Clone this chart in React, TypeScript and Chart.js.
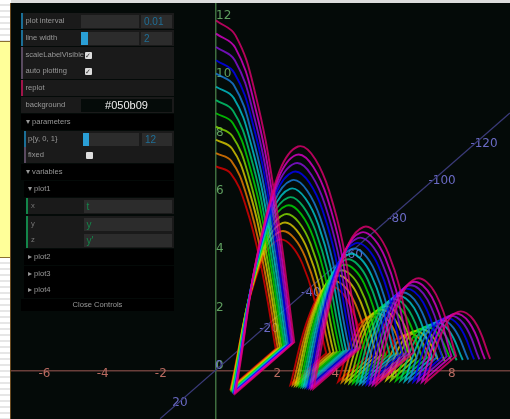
import React, { useEffect, useRef } from "react";
import { Chart, registerables } from "chart.js";

Chart.register(...registerables);

const seriesColors = ["#e00070cc", "#dd00cccc", "#8a10e0cc", "#0000ffcc", "#1a80e0cc", "#00c8d0cc", "#00d070cc", "#00dd00cc", "#88e000cc", "#e0d000cc", "#f08000cc", "#e00000cc"];

const x12 = [0, .67, 1.35, 2.02, 2.69, .67, 1.74, 2.82, 3.89, 4.97, 3.35, 4.21, 5.07, 5.93, 6.79, 5.5, 6.19, 6.87, 7.56, 8.25, 7.21, 7.77, 8.32, 8.87, 9.42];
const y12 = [12, 11.49, 9.49, 5.98, .97, -.78, 5.37, 7.68, 6.15, .78, -.62, 3.38, 4.92, 4, .62, -.5, 2.11, 3.15, 2.61, .5, -.4, 1.31, 2.01, 1.71, .4];
const x11 = [0, .66, 1.32, 1.98, 2.64, .65, 1.71, 2.76, 3.82, 4.87, 3.28, 4.13, 4.97, 5.82, 6.66, 5.39, 6.07, 6.74, 7.42, 8.09, 7.08, 7.62, 8.16, 8.7, 9.24];
const y11 = [11.55, 11.07, 9.14, 5.77, .95, -.76, 5.16, 7.39, 5.93, .76, -.61, 3.24, 4.73, 3.85, .61, -.49, 2.03, 3.03, 2.51, .49, -.39, 1.26, 1.94, 1.65, .39];
const x10 = [0, .65, 1.29, 1.94, 2.59, .64, 1.67, 2.71, 3.74, 4.78, 3.22, 4.05, 4.87, 5.7, 6.53, 5.28, 5.94, 6.61, 7.27, 7.93, 6.93, 7.46, 7.99, 8.52, 9.05];
const y10 = [11.09, 10.63, 8.79, 5.55, .93, -.75, 4.95, 7.1, 5.7, .75, -.6, 3.11, 4.54, 3.71, .6, -.48, 1.94, 2.91, 2.42, .48, -.38, 1.21, 1.86, 1.59, .38];
const x9 = [0, .63, 1.27, 1.9, 2.53, .63, 1.64, 2.65, 3.67, 4.68, 3.15, 3.96, 4.78, 5.59, 6.4, 5.18, 5.82, 6.47, 7.12, 7.77, 6.79, 7.31, 7.83, 8.35, 8.87];
const y9 = [10.64, 10.2, 8.44, 5.34, .92, -.73, 4.74, 6.81, 5.47, .73, -.59, 2.98, 4.36, 3.56, .59, -.47, 1.86, 2.79, 2.33, .47, -.38, 1.15, 1.79, 1.53, .38];
const x8 = [0, .62, 1.24, 1.86, 2.48, .61, 1.6, 2.59, 3.58, 4.58, 3.08, 3.88, 4.67, 5.46, 6.25, 5.06, 5.69, 6.33, 6.96, 7.6, 6.64, 7.15, 7.66, 8.16, 8.67];
const y8 = [10.18, 9.77, 8.08, 5.13, .9, -.72, 4.53, 6.52, 5.24, .72, -.57, 2.84, 4.17, 3.41, .57, -.46, 1.77, 2.67, 2.23, .46, -.37, 1.1, 1.71, 1.46, .37];
const x7 = [0, .61, 1.21, 1.82, 2.42, .6, 1.57, 2.54, 3.51, 4.47, 3.01, 3.79, 4.57, 5.34, 6.12, 4.95, 5.57, 6.19, 6.81, 7.43, 6.49, 6.99, 7.49, 7.98, 8.48];
const y7 = [9.73, 9.34, 7.74, 4.91, .88, -.7, 4.32, 6.23, 5.02, .7, -.56, 2.71, 3.99, 3.27, .56, -.45, 1.69, 2.55, 2.14, .45, -.36, 1.04, 1.63, 1.4, .36];
const x6 = [0, .59, 1.18, 1.77, 2.36, .58, 1.53, 2.48, 3.42, 4.37, 2.94, 3.7, 4.46, 5.21, 5.97, 4.83, 5.43, 6.04, 6.64, 7.25, 6.34, 6.82, 7.31, 7.79, 8.27];
const y6 = [9.27, 8.9, 7.38, 4.7, .85, -.68, 4.11, 5.93, 4.79, .68, -.55, 2.58, 3.8, 3.12, .55, -.44, 1.6, 2.43, 2.04, .44, -.35, .99, 1.56, 1.34, .35];
const x5 = [0, .58, 1.15, 1.73, 2.31, .57, 1.49, 2.42, 3.34, 4.26, 2.87, 3.61, 4.35, 5.09, 5.82, 4.71, 5.3, 5.89, 6.48, 7.08, 6.19, 6.66, 7.13, 7.6, 8.08];
const y5 = [8.82, 8.48, 7.03, 4.48, .83, -.67, 3.9, 5.65, 4.57, .67, -.53, 2.44, 3.61, 2.98, .53, -.43, 1.52, 2.31, 1.95, .43, -.34, .94, 1.48, 1.28, .34];
const x4 = [0, .56, 1.12, 1.68, 2.25, .55, 1.45, 2.35, 3.25, 4.15, 2.79, 3.51, 4.23, 4.95, 5.67, 4.59, 5.16, 5.74, 6.31, 6.89, 6.02, 6.48, 6.94, 7.4, 7.86];
const y4 = [8.36, 8.04, 6.68, 4.27, .81, -.65, 3.69, 5.35, 4.34, .65, -.52, 2.31, 3.42, 2.83, .52, -.42, 1.43, 2.19, 1.85, .42, -.33, .89, 1.4, 1.22, .33];
const x3 = [0, .55, 1.09, 1.64, 2.19, .54, 1.41, 2.29, 3.16, 4.04, 2.72, 3.42, 4.12, 4.82, 5.52, 4.46, 5.02, 5.58, 6.14, 6.7, 5.86, 6.31, 6.75, 7.2, 7.65];
const y3 = [7.91, 7.61, 6.33, 4.05, .79, -.63, 3.48, 5.06, 4.11, .63, -.51, 2.18, 3.24, 2.68, .51, -.4, 1.35, 2.07, 1.76, .4, -.32, .83, 1.33, 1.16, .32];
const x2 = [0, .53, 1.06, 1.59, 2.12, .52, 1.37, 2.22, 3.07, 3.92, 2.64, 3.32, 3.99, 4.67, 5.35, 4.33, 4.87, 5.42, 5.96, 6.5, 5.68, 6.12, 6.55, 6.99, 7.42];
const y2 = [7.45, 7.18, 5.97, 3.83, .77, -.61, 3.27, 4.77, 3.88, .61, -.49, 2.04, 3.05, 2.53, .49, -.39, 1.27, 1.95, 1.66, .39, -.31, .78, 1.25, 1.09, .31];
const x1 = [0, .51, 1.03, 1.54, 2.05, .51, 1.33, 2.15, 2.97, 3.79, 2.56, 3.21, 3.87, 4.53, 5.19, 4.2, 4.72, 5.25, 5.77, 6.3, 5.51, 5.93, 6.35, 6.77, 7.19];
const y1 = [7, 6.75, 5.62, 3.62, .74, -.59, 3.06, 4.48, 3.66, .59, -.48, 1.91, 2.87, 2.39, .48, -.38, 1.19, 1.84, 1.57, .38, -.3, .73, 1.18, 1.03, .3];

const seriesX = [x12, x11, x10, x9, x8, x7, x6, x5, x4, x3, x2, x1];
const seriesY = [y12, y11, y10, y9, y8, y7, y6, y5, y4, y3, y2, y1];

const xTickValues = [-6, -4, -2, 2, 4, 6, 8];
const yTickValues = [0, 2, 4, 6, 8, 10, 12];
const zAxisX = [-1.92, 10.1];
const zAxisY = [-1.65, 8.83];
const zTickLabels = ["20", "0", "-20", "-40", "-60", "-80", "-100", "-120"];
const zTickX = [-1.24, .1, 1.82, 3.26, 4.71, 6.22, 7.77, 9.21];
const zTickY = [-1.11, .15, 1.42, 2.66, 3.96, 5.19, 6.5, 7.76];

const fontName = "'DejaVu Sans', sans-serif";
const bg = "#040a08";

// A bounce is a straight jump: doubling the ends of each arc keeps the corner sharp under tension.
function arcPoints(xs: number[], ys: number[]) {
  const out: { x: number; y: number }[] = [];
  xs.forEach((x, i) => {
    const p = { x, y: ys[i] };
    out.push(p);
    if ((i % 5 === 4 && i < xs.length - 1) || (i % 5 === 0 && i > 0)) out.push(p);
  });
  return out;
}

const axisLabels = {
  id: "axisLabels",
  beforeDatasetsDraw(chart: any) {
    const { ctx, scales } = chart;
    ctx.save();
    ctx.font = `12px ${fontName}`;
    ctx.textBaseline = "middle";
    ctx.textAlign = "left";
    ctx.fillStyle = "#5f9f5f";
    yTickValues.forEach((v) => {
      ctx.fillText(String(v), scales.x.getPixelForValue(0), scales.y.getPixelForValue(v) - 4.5);
    });
    ctx.fillStyle = "#6a6ac4";
    ctx.textAlign = "center";
    zTickLabels.forEach((t, i) => {
      ctx.fillText(t, scales.x.getPixelForValue(zTickX[i]), scales.y.getPixelForValue(zTickY[i]));
    });
    ctx.restore();
  },
};

type RowProps = { top: number; h?: number; stripe?: string; left?: number; bg?: string; children?: React.ReactNode };
function Row({ top, h = 16, stripe, left = 21, bg: rowBg = "#1a1a1a", children }: RowProps) {
  return (
    <div style={{ position: "absolute", left: 21, top, width: 153, height: h }}>
      <div style={{ position: "absolute", left: left - 21, top: 0, right: 0, bottom: 0, background: rowBg }} />
      {stripe && <div style={{ position: "absolute", left: left - 21, top: 0, width: 2.3, bottom: 0, background: stripe }} />}
      {children}
    </div>
  );
}
function Label({ t, x = 25.5, color = "#999" }: { t: string; x?: number; color?: string }) {
  return <span style={{ position: "absolute", left: x - 21, top: 3, fontSize: 7.6, lineHeight: "10px", color, whiteSpace: "nowrap" }}>{t}</span>;
}
function Box({ x, w, text, color = "#1f6f97", size = 10, fill = 0, align = "left", boxBg = "#2c2c2c" }: any) {
  return (
    <div style={{ position: "absolute", left: x - 21, top: 2, width: w, height: 13, background: boxBg, fontSize: size, lineHeight: "13px", color, textAlign: align, overflow: "hidden" }}>
      {fill > 0 && <div style={{ width: fill, height: 13, background: "#2a9fd6" }} />}
      {text && <span style={{ marginLeft: align === "left" ? 3 : 0 }}>{text}</span>}
    </div>
  );
}
function Check({ x, on }: { x: number; on: boolean }) {
  return (
    <div style={{ position: "absolute", left: x - 21, top: 5, width: 7, height: 7, background: "#ddd", borderRadius: 1, fontSize: 7, lineHeight: "7px", color: "#333", textAlign: "center" }}>
      {on ? "✓" : ""}
    </div>
  );
}

export default function App() {
  const ref = useRef<HTMLCanvasElement>(null);
  useEffect(() => {
    document.body.style.margin = "0";
    const tickFont = { family: fontName, size: 12 };
    const chart = new Chart(ref.current!, {
      type: "scatter",
      data: {
        datasets: [
          ...seriesX.map((xs, i) => ({
            label: `p${12 - i}`,
            data: arcPoints(xs, seriesY[i]),
            showLine: true,
            borderColor: seriesColors[i],
            borderWidth: 1.9,
            pointRadius: 0,
            tension: 0.42,
          })),
          {
            label: "z",
            data: zAxisX.map((x, i) => ({ x, y: zAxisY[i] })),
            showLine: true,
            borderColor: "#3a3a78",
            borderWidth: 1.3,
            pointRadius: 0,
            tension: 0,
          },
        ],
      },
      options: {
        animation: false,
        responsive: false,
        devicePixelRatio: 1,
        layout: { padding: 0, autoPadding: false },
        plugins: { legend: { display: false }, tooltip: { enabled: false } },
        scales: {
          x: {
            type: "linear",
            min: -7.045,
            max: 10.103,
            position: { y: 0 } as any,
            afterBuildTicks: (s: any) => { s.ticks = xTickValues.map((value) => ({ value })); },
            grid: { display: false },
            border: { color: "#6a3f3a", width: 1.5 },
            ticks: { color: "#b86a60", font: tickFont, padding: -11.5, labelOffset: 3, autoSkip: false, maxRotation: 0, callback: (v: any) => String(v) },
          },
          y: {
            type: "linear",
            min: -1.663,
            max: 12.6,
            position: { x: 0 } as any,
            grid: { display: false },
            border: { color: "#3f6e3f", width: 1.5 },
            ticks: { display: false },
          },
        },
      } as any,
      plugins: [axisLabels],
    });
    return () => chart.destroy();
  }, []);

  const stripes = "repeating-linear-gradient(180deg, #ffffff 0px, #ffffff 4px, #e6e6e6 4px, #e6e6e6 6px)";
  return (
    <div style={{ position: "relative", width: 510, height: 419, overflow: "hidden", background: "#dcdcdc", fontFamily: "'Liberation Sans', sans-serif", filter: "blur(0.6px)" }}>
      <div style={{ position: "absolute", left: 0, top: 0, width: 11, height: 41, background: stripes }} />
      <div style={{ position: "absolute", left: 0, top: 258, width: 11, height: 161, background: stripes }} />
      <div style={{ position: "absolute", left: 0, top: 41, width: 10, height: 217, background: "#ffff99", borderTop: "1px solid #8a7030", borderBottom: "1px solid #8a7030", boxSizing: "border-box" }} />
      <div style={{ position: "absolute", left: 10, top: 3, width: 1.5, height: 416, background: "#6a4a20" }} />
      <canvas ref={ref} width={499} height={416} style={{ position: "absolute", left: 11, top: 3, width: 499, height: 416, background: bg }} />

      <div style={{ position: "absolute", left: 0, top: 0, width: 510, height: 419, willChange: "transform" }}>
        <Row top={12.5} stripe="#1b6f97"><Label t="plot interval" /><Box x={81} w={58} /><Box x={141} w={31} text="0.01" /></Row>
        <Row top={29.5} stripe="#1b6f97"><Label t="line width" /><Box x={81} w={58} fill={7} /><Box x={141} w={31} text="2" /></Row>
        <Row top={46.5} stripe="#5a4a60"><Label t="scaleLabelVisible" /><Check x={84.5} on /></Row>
        <Row top={63} stripe="#5a4a60"><Label t="auto plotting" /><Check x={84.5} on /></Row>
        <Row top={79.5} stripe="#a0154a"><Label t="replot" /></Row>
        <Row top={96.5}><Label t="background" /><Box x={81} w={91} text="#050b09" color="#eee" size={11} align="center" boxBg="#050b09" /></Row>
        <Row top={113.5} bg="#000"><Label t="▾ parameters" x={26} /></Row>
        <Row top={130.5} left={24} stripe="#1b6f97"><Label t="p{y, 0, 1}" x={28} /><Box x={83} w={56} fill={6} /><Box x={142} w={30} text="12" /></Row>
        <Row top={147} left={24} stripe="#5a4a60"><Label t="fixed" x={28} /><Check x={85.5} on={false} /></Row>
        <Row top={164} bg="#000"><Label t="▾ variables" x={26} /></Row>
        <Row top={181} left={24} bg="#000"><Label t="▾ plot1" x={28} /></Row>
        <Row top={198} left={26} stripe="#13864a"><Label t="x" x={31} color="#777" /><Box x={83.5} w={88.5} text="t" color="#13864a" /></Row>
        <Row top={215.5} left={26} stripe="#13864a"><Label t="y" x={31} color="#777" /><Box x={83.5} w={88.5} text="y" color="#13864a" /></Row>
        <Row top={232} left={26} stripe="#13864a"><Label t="z" x={31} color="#777" /><Box x={83.5} w={88.5} text="y'" color="#13864a" /></Row>
        <Row top={249} left={24} bg="#000"><Label t="▸ plot2" x={28} /></Row>
        <Row top={265.5} left={24} bg="#000"><Label t="▸ plot3" x={28} /></Row>
        <Row top={282} left={24} bg="#000"><Label t="▸ plot4" x={28} /></Row>
        <div style={{ position: "absolute", left: 21, top: 299, width: 153, height: 12, background: "#000", color: "#999", fontSize: 7.6, lineHeight: "11px", textAlign: "center" }}>Close Controls</div>
      </div>
    </div>
  );
}
